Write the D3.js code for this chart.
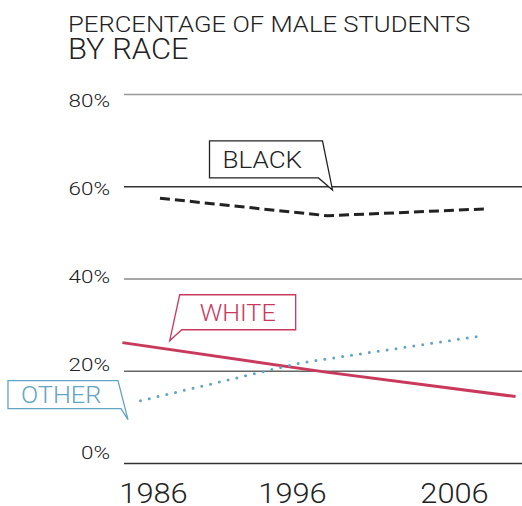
<!DOCTYPE html>
<html>
<head>
<meta charset="utf-8">
<script src="https://cdn.jsdelivr.net/npm/d3@7"></script>
<style>
  html, body { margin: 0; padding: 0; background: #fff; }
  svg text { font-family: Roboto, "Liberation Sans", sans-serif; font-weight: 300; fill: #222; }
</style>
</head>
<body>
<svg id="chart" width="522" height="506"></svg>
<script>
// ---- data ----
const titleLines = ["PERCENTAGE OF MALE STUDENTS", "BY RACE"];
const yTicks = [0, 20, 40, 60, 80];
const xTicks = [1986, 1996, 2006];
const blackYears = [1986.5, 1998.2, 2008.0];
const blackValues = [57.4, 53.6, 55.1];
const whiteYears = [1983.8, 1998.1, 2009.8];
const whiteValues = [26.1, 19.7, 14.4];
const otherYears = [1985.1, 1996.5, 2007.4];
const otherValues = [13.5, 21.7, 27.4];
const calloutLabels = ["BLACK", "WHITE", "OTHER"];
const calloutYears = [1998.5, 1987.2, 1984.2];
const calloutValues = [59.2, 26.5, 9.4];

const svg = d3.select("#chart");

// widen Roboto Light to Helvetica-like proportions
function stretch(sel, factor) {
  sel.each(function () {
    const w = this.getComputedTextLength();
    d3.select(this).attr("textLength", w * factor).attr("lengthAdjust", "spacingAndGlyphs");
  });
}

// scales
const x = d3.scaleLinear().domain([1986, 1996, 2006]).range([153, 292, 454]);
const y = d3.scaleLinear().domain([0, 80]).range([463, 94]);
const yLabel = d3.scaleLinear().domain([0, 80]).range([458, 106]);

// title
svg.append("text").attr("x", 68).attr("y", 32)
  .style("font-size", "22.5px").text(titleLines[0])
  .call(stretch, 1.14);
svg.append("text").attr("x", 68).attr("y", 59)
  .style("font-size", "30px").text(titleLines[1])
  .call(stretch, 1.03);

// grid + y labels
const gridColors = {0: "#333", 20: "#666", 40: "#888", 60: "#333", 80: "#999"};
const yAxis = svg.append("g").attr("transform", "translate(124,0)")
  .call(d3.axisLeft(y).tickValues(yTicks).tickSize(-398).tickFormat(d => d + "%"));
yAxis.select(".domain").remove();
yAxis.selectAll(".tick line")
  .attr("stroke", d => gridColors[d]).attr("stroke-width", 1.3);
yAxis.selectAll(".tick text")
  .attr("x", -14)
  .attr("dy", null)
  .attr("y", d => yLabel(d) - y(d))
  .style("font-size", "19px")
  .attr("fill", "#222")
  .call(stretch, 1.18);

// x labels
const xAxis = svg.append("g").attr("transform", "translate(0,503)")
  .call(d3.axisBottom(x).tickValues(xTicks).tickSize(0).tickFormat(d3.format("d")));
xAxis.select(".domain").remove();
xAxis.selectAll(".tick text")
  .attr("y", 0).attr("dy", null)
  .style("font-size", "27.5px")
  .attr("fill", "#222")
  .call(stretch, 1.12);

// lines
const line = d3.line().x(d => x(d[0])).y(d => y(d[1]));
const series = [
  {years: blackYears, values: blackValues, color: "#222", dash: "10,5", cap: "butt", w: 3},
  {years: whiteYears, values: whiteValues, color: "#c9395e", dash: null, cap: "butt", w: 3},
  {years: otherYears, values: otherValues, color: "#63a3c3", dash: "0,9", cap: "round", w: 3}
];
series.forEach(s => {
  svg.append("path")
    .datum(s.years.map((yr, i) => [yr, s.values[i]]))
    .attr("d", line)
    .attr("fill", "none")
    .attr("stroke", s.color)
    .attr("stroke-width", s.w)
    .attr("stroke-linecap", s.cap)
    .attr("stroke-dasharray", s.dash);
});

// callouts (tip anchored on data coordinates, shape relative to tip)
const calloutColors = ["#222", "#c9395e", "#63a3c3"];
const calloutShapes = [
  (tx, ty) => [[tx-123, ty-49], [tx-10, ty-49], [tx, ty], [tx-14, ty-12], [tx-123, ty-12]],
  (tx, ty) => [[tx+10, ty-46], [tx+126, ty-46], [tx+126, ty-11], [tx+12, ty-11], [tx, ty]],
  (tx, ty) => [[tx-120, ty-39], [tx-10, ty-39], [tx, ty], [tx-7, ty-11], [tx-120, ty-11]]
];
const calloutText = [
  (tx, ty) => [tx-110, ty-22],
  (tx, ty) => [tx+30, ty-20],
  (tx, ty) => [tx-107, ty-17]
];
const calloutFont = ["23.5px", "23.5px", "23px"];
const calloutStretch = [1.11, 1.07, 1.1];
calloutLabels.forEach((lab, i) => {
  const tx = x(calloutYears[i]), ty = y(calloutValues[i]);
  const pts = calloutShapes[i](tx, ty);
  svg.append("path")
    .attr("d", "M" + pts.map(p => p.join(",")).join("L") + "Z")
    .attr("fill", "#fff")
    .attr("stroke", calloutColors[i])
    .attr("stroke-width", 1.3)
    .attr("stroke-linejoin", "miter");
  const tp = calloutText[i](tx, ty);
  svg.append("text").attr("x", tp[0]).attr("y", tp[1])
    .style("font-size", calloutFont[i])
    .style("fill", calloutColors[i])
    .text(lab)
    .call(stretch, calloutStretch[i]);
});
</script>
</body>
</html>
